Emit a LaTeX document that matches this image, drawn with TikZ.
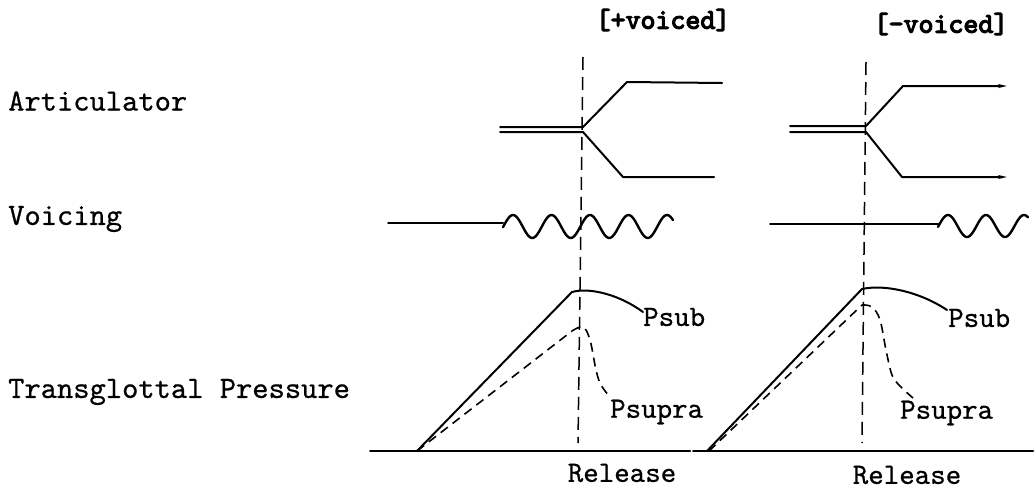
\documentclass[tikz,border=0pt]{standalone}
\usepackage{fontspec}
\newfontfamily\lbfont[FakeBold=0.6]{lmmono10-regular.otf}
\newfontfamily\hdfont[FakeBold=4]{lmmono10-regular.otf}
\usetikzlibrary{arrows.meta}
\begin{document}
\begin{tikzpicture}[x=1pt,y=-1pt,
  lbl/.style={font=\lbfont\fontsize{31}{33}\selectfont, inner sep=0pt, anchor=west},
  plbl/.style={font=\lbfont\fontsize{29.5}{32}\selectfont, inner sep=0pt},
  head/.style={font=\hdfont\fontsize{28.5}{30}\selectfont, inner sep=0pt},
  ln/.style={line width=2pt, line join=round, line cap=round},
  rel/.style={line width=1.5pt, dash pattern=on 13pt off 7pt},
  sup/.style={line width=1.6pt, dash pattern=on 9pt off 6pt}]
\useasboundingbox (0,0) rectangle (1035,490);

% left labels
\node[lbl] (art) at (8,101) {Articulator};
\node[lbl] (voi) at (8,219) {Voicing};
\node[lbl] (tp) at (8,392) {Transglottal Pressure};

% headings
\node[head] (hv) at (663,20) {[+voiced]};
\node[head] (hu) at (941,24) {[-voiced]};

% release lines
\draw[rel] (583,57) -- (578,443);
\draw[rel] (866,62) -- (862,443);

% ===== panel 1 =====
% articulator
\draw[ln] (500,127) -- (583,127) -- (627,82) -- (722,83);
\draw[ln] (500,132) -- (583,132) -- (623,177) -- (714,177);
% voicing
\draw[ln] (388,223) -- (503,223);
\draw[ln, line width=2.4pt, smooth] plot[domain=0:170, samples=120] ({\x+503}, {226.5 - 11.5*sin(9.3506*(\x-10) + 90)});
% baseline
\draw[ln] (370,451) -- (690,451);
% Psub
\draw[ln] (417,451) -- (572,292) .. controls (590,287) and (620,295) .. (643,312);
% Psupra
\draw[sup] (417,451) -- (572,331);
\draw[sup] plot[smooth, tension=0.6] coordinates {(572,331) (583,327) (590,340) (596,370) (601,385) (610,397)};
\node[plbl, anchor=west] (psub1) at (643,317) {Psub};
\node[plbl, anchor=west] (psupra1) at (610,412) {Psupra};
\node[plbl] (rel1) at (622,473) {Release};

% ===== panel 2 =====
\draw[ln, -{Stealth[length=9pt,width=4pt]}] (790,126) -- (866,126) -- (903,86) -- (1007,86);
\draw[ln, -{Stealth[length=9pt,width=4pt]}] (790,132) -- (866,132) -- (902,177) -- (1007,177);
% voicing
\draw[ln] (770,224) -- (938,224);
\draw[ln, line width=2.4pt, smooth] plot[domain=0:90, samples=80] ({\x+938}, {226 - 11*sin(9.4737*(\x-10) + 90)});
% baseline
\draw[ln] (693,451) -- (1033,451);
% Psub
\draw[ln] (707,451) -- (862,289) .. controls (885,284) and (920,292) .. (947,310);
% Psupra
\draw[sup] (709,451) -- (862,305);
\draw[sup] plot[smooth, tension=0.6] coordinates {(862,305) (872,307) (880,320) (886,350) (892,375) (900,386) (913,398)};
\node[plbl, anchor=west] (psub2) at (948,318) {Psub};
\node[plbl, anchor=west] (psupra2) at (900,413) {Psupra};
\node[plbl] (rel2) at (907,475) {Release};
\end{tikzpicture}
\end{document}
